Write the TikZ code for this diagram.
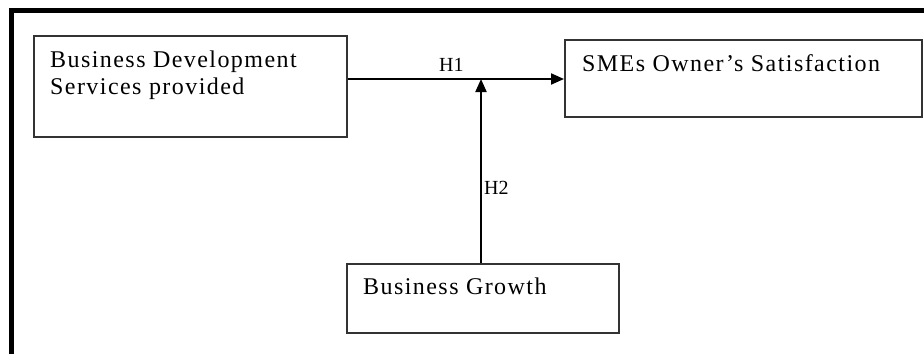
\documentclass[tikz,border=0pt]{standalone}
\usepackage{fontspec}
\setmainfont{Liberation Serif}[LetterSpace=6]
\newfontfamily\labfont{Liberation Serif}
\usetikzlibrary{arrows.meta}
\begin{document}
\begin{tikzpicture}[x=1pt,y=-1pt,
  box/.style={draw=black!80, line width=1.8pt, rectangle, inner sep=0pt, anchor=north west},
  txt/.style={inner sep=0pt, anchor=base west, font=\fontsize{24}{28}\selectfont},
  lab/.style={inner sep=0pt, anchor=base west, font=\labfont\fontsize{20}{24}\selectfont},
  arr/.style={line width=2pt, -{Triangle[length=13pt,width=11pt]}},
  frame/.style={line width=5pt}]
\useasboundingbox (0,0) rectangle (924,354);
% frame
\draw[frame] (11.5,354) -- (11.5,10.8) -- (924,10.8);
% boxes
\node[box, minimum width=313pt, minimum height=101pt] (bds) at (33,35) {};
\node[box, minimum width=357pt, minimum height=77pt] (sme) at (564,39) {};
\node[box, minimum width=272pt, minimum height=69pt] (bg) at (346,263) {};
% texts
\node[txt] (t1) at (50,67) {Business Development};
\node[txt] (t2) at (50,94) {Services provided};
\node[txt] (t3) at (582,71) {SMEs Owner’s Satisfaction};
\node[txt] (t4) at (363,294) {Business Growth};
% connectors
\coordinate (j) at (481,79);
\draw[arr] (bds.east |- j) -- (sme.west |- j);
\draw[arr] (bg.north -| j) -- (j);
\node[lab] (h1) at (439,71) {H1};
\node[lab] (h2) at (484,194) {H2};
\end{tikzpicture}
\end{document}
